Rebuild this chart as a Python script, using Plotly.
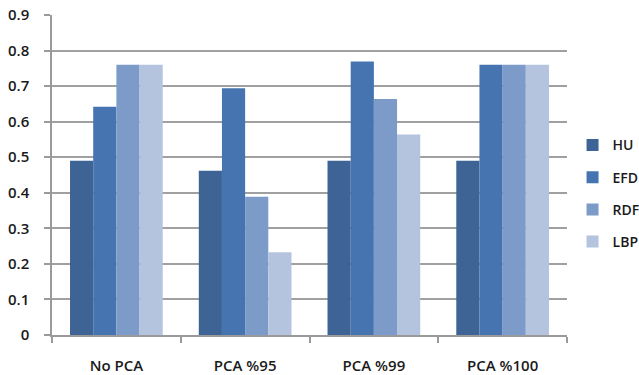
import plotly.graph_objects as go

# Accuracy per feature set under different PCA settings
categories = ["No PCA", "PCA %95", "PCA %99", "PCA %100"]
hu = [0.49, 0.462, 0.49, 0.49]
efd = [0.642, 0.694, 0.769, 0.76]
rdf = [0.76, 0.389, 0.664, 0.76]
lbp = [0.76, 0.233, 0.564, 0.76]

series = [
    ("HU", hu, "#3d6494"),
    ("EFD", efd, "#4674b0"),
    ("RDF", rdf, "#7d9bc8"),
    ("LBP", lbp, "#b4c4df"),
]

font_family = "Open Sans, DejaVu Sans, sans-serif"

fig = go.Figure()
for i, (name, vals, color) in enumerate(series):
    fig.add_trace(go.Bar(
        x=categories, y=vals, name=name,
        marker=dict(color=color, line=dict(width=0)),
        legendgroup=str(i),
    ))

fig.update_layout(
    width=639, height=375,
    margin=dict(l=52, r=72, t=15, b=40, autoexpand=False),
    paper_bgcolor="white", plot_bgcolor="white",
    barmode="group", bargap=0.28, bargroupgap=0,
    font=dict(family=font_family, size=15, color="#1a1a1a", weight=600),
    showlegend=True,
    legend=dict(
        xref="container", yref="container",
        x=0.896, y=0.655, xanchor="left", yanchor="top",
        traceorder="grouped", tracegroupgap=11,
        font=dict(size=14, family=font_family, weight=600),
        itemwidth=30,
    ),
)
fig.update_xaxes(
    showline=True, linecolor="#9a9a9a", linewidth=1.5,
    ticks="outside", tickson="boundaries", ticklen=6, tickcolor="#9a9a9a",
    tickwidth=1.5, ticklabelstandoff=16,
    showgrid=False,
)
fig.update_yaxes(
    range=[0, 0.9], dtick=0.1, tickformat=".1~f",
    showline=True, linecolor="#9a9a9a", linewidth=1.5,
    ticks="outside", ticklen=6, tickcolor="#9a9a9a", tickwidth=1.5,
    ticklabelstandoff=12,
    showgrid=True, gridcolor="#a0a0a0", gridwidth=1.5,
    zeroline=False,
)

fig.write_html("out.html")
